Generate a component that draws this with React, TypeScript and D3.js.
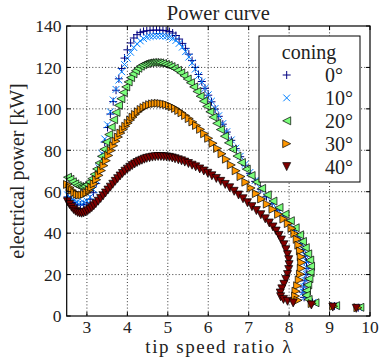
import React from 'react';
import * as d3 from 'd3';

const W = 379;
const H = 358;

const xTicks = [3, 4, 5, 6, 7, 8, 9, 10];
const yTicks = [0, 20, 40, 60, 80, 100, 120, 140];
const coningLabels = ['0°', '10°', '20°', '30°', '40°'];
const seriesColors = ['#000080', '#0080ff', '#7bff7b', '#ff9700', '#800000'];
const markerKinds = ['plus', 'x', 'left', 'right', 'down'];

// [tip speed ratio, electrical power kW]
const coning0: [number, number][] = [
  [2.52,57.5],[2.6,56],[2.68,54.8],[2.76,53.9],[2.84,53.5],[2.92,53.8],[3.0,54.6],[3.08,56.4],[3.16,59.5],[3.23,64],
  [3.3,70],[3.37,77],[3.44,84],[3.51,91],[3.58,97.5],[3.65,103.5],[3.72,109],[3.79,114.5],[3.86,119.5],[3.93,124.5],
  [4.0,128.5],[4.08,131.8],[4.16,134.2],[4.24,135.8],[4.32,136.8],[4.4,137.4],[4.48,137.7],[4.56,137.9],[4.64,138],[4.72,138],
  [4.8,138],[4.88,137.9],[4.96,137.7],[5.04,137.3],[5.12,136.6],[5.2,135.4],[5.28,133.7],[5.36,131.6],[5.44,129.2],[5.52,126.4],
  [5.6,123.3],[5.68,120],[5.76,116.6],[5.84,113.2],[5.92,109.9],[6.0,106.6],[6.08,103.4],[6.17,99.9],[6.26,96.4],[6.36,92.6],
  [6.46,88.8],[6.57,84.8],[6.68,80.8],[6.79,76.9],[6.91,72.8],[7.03,68.9],[7.16,65],[7.3,61.2],[7.44,57.6],[7.58,54.2],
  [7.72,51],[7.86,47.8],[8.0,44.7],[8.13,41.4],[8.22,38.2],[8.29,35],[8.35,32],[8.4,29],[8.43,26],[8.44,23],
  [8.42,20],[8.39,17],[8.36,14],[8.34,11.5],[8.37,9],[8.58,6.5],[9.12,4.8],[9.71,4.0],
];

const coning10: [number, number][] = [
  [2.52,58.5],[2.6,57.1],[2.68,55.9],[2.76,55],[2.84,54.6],[2.92,54.8],[3.0,55.6],[3.08,57.5],[3.16,61],[3.23,65.5],
  [3.3,71.5],[3.37,78.5],[3.44,85.5],[3.51,92.3],[3.58,98.6],[3.65,104.3],[3.72,109.4],[3.79,113.9],[3.86,117.9],[3.93,121.4],
  [4.0,124.4],[4.08,127.3],[4.16,129.6],[4.24,131.4],[4.32,132.8],[4.4,133.9],[4.48,134.6],[4.56,135],[4.64,135.2],[4.72,135.3],
  [4.8,135.3],[4.88,135.2],[4.96,135],[5.04,134.6],[5.12,134],[5.2,133],[5.28,131.6],[5.36,129.8],[5.44,127.6],[5.52,125],
  [5.6,122.2],[5.68,119.2],[5.76,116.1],[5.84,113],[5.92,109.9],[6.0,106.8],[6.08,103.7],[6.17,100.2],[6.26,96.7],[6.36,92.9],
  [6.46,89],[6.57,85],[6.68,81],[6.79,77.1],[6.91,73.2],[7.03,69.3],[7.16,65.4],[7.3,61.5],[7.44,57.9],[7.58,54.5],
  [7.72,51.3],[7.86,48.1],[8.0,45],[8.13,41.7],[8.23,38.4],[8.3,35.2],[8.36,32.1],[8.41,29.1],[8.44,26.1],[8.45,23.1],
  [8.43,20.1],[8.4,17.1],[8.37,14.1],[8.35,11.6],[8.38,9.1],[8.59,6.6],[9.13,4.9],[9.72,4.1],
];

const coning20: [number, number][] = [
  [2.52,67],[2.58,66],[2.64,64.8],[2.7,63.8],[2.76,63],[2.82,62.5],[2.88,62.4],[2.94,62.7],[3.0,63.5],[3.06,64.7],
  [3.12,66.3],[3.18,68.4],[3.24,71],[3.3,73.9],[3.36,77.1],[3.42,80.5],[3.48,84],[3.54,87.6],[3.6,91.2],[3.66,94.8],
  [3.72,98.3],[3.78,101.7],[3.84,104.9],[3.9,107.9],[3.96,110.6],[4.02,113],[4.08,115.1],[4.14,116.9],[4.2,118.4],[4.26,119.6],
  [4.32,120.6],[4.38,121.3],[4.44,121.8],[4.5,122.1],[4.56,122.3],[4.62,122.4],[4.68,122.4],[4.74,122.3],[4.8,122.2],[4.87,121.9],
  [4.94,121.5],[5.01,121],[5.08,120.4],[5.16,119.6],[5.24,118.6],[5.32,117.4],[5.4,116],[5.48,114.4],[5.56,112.6],[5.64,110.6],
  [5.72,108.4],[5.8,106.1],[5.88,103.7],[5.96,101.2],[6.04,98.6],[6.12,96],[6.21,93],[6.3,90],[6.4,86.8],[6.5,83.6],
  [6.6,80.4],[6.71,77.2],[6.82,74.1],[6.94,70.9],[7.06,67.8],[7.19,64.7],[7.32,61.6],[7.46,58.5],[7.6,55.5],[7.75,52.4],
  [7.9,49.2],[8.03,46],[8.15,42.6],[8.26,39.2],[8.33,36],[8.4,33],[8.46,30],[8.51,27],[8.53,24],[8.52,21],
  [8.49,18],[8.46,15],[8.43,12.3],[8.42,10],[8.47,8],[8.64,6.4],[9.15,5],[9.75,4.2],
];

const coning30: [number, number][] = [
  [2.52,63.5],[2.58,62],[2.64,60.7],[2.7,59.6],[2.76,58.8],[2.82,58.4],[2.88,58.4],[2.94,58.8],[3.0,59.6],[3.06,60.7],
  [3.12,62.1],[3.18,63.8],[3.24,65.8],[3.3,67.9],[3.36,70.2],[3.42,72.6],[3.48,75],[3.54,77.5],[3.6,79.9],[3.66,82.2],
  [3.72,84.4],[3.78,86.4],[3.84,88.3],[3.9,90],[3.96,91.6],[4.02,93.1],[4.08,94.6],[4.14,96],[4.2,97.3],[4.27,98.6],
  [4.34,99.7],[4.41,100.6],[4.48,101.4],[4.55,102],[4.62,102.4],[4.69,102.6],[4.76,102.7],[4.83,102.6],[4.9,102.4],[4.97,102.1],
  [5.04,101.6],[5.11,101],[5.19,100.2],[5.27,99.2],[5.35,98.1],[5.44,96.8],[5.53,95.3],[5.62,93.7],[5.71,92],[5.81,90.1],
  [5.91,88],[6.01,85.8],[6.12,83.4],[6.23,80.9],[6.34,78.3],[6.45,75.7],[6.57,72.9],[6.69,70.1],[6.81,67.3],[6.93,64.6],
  [7.06,61.8],[7.19,59.1],[7.32,56.5],[7.46,54],[7.6,51.5],[7.74,49.1],[7.87,46.8],[7.98,44.6],[8.07,42.3],[8.14,39.8],
  [8.2,37],[8.24,34.2],[8.28,31.4],[8.3,28.6],[8.31,25.8],[8.3,23],[8.28,20.2],[8.25,17.4],[8.21,14.6],[8.17,12],
  [8.16,9.6],[8.22,7.6],[8.57,6],[9.1,4.7],[9.7,4.0],
];

const coning40: [number, number][] = [
  [2.52,55.2],[2.57,53.8],[2.62,52.5],[2.67,51.4],[2.72,50.6],[2.77,50],[2.82,49.7],[2.87,49.6],[2.92,49.8],[2.97,50.2],
  [3.02,50.8],[3.07,51.5],[3.12,52.3],[3.17,53.2],[3.22,54.2],[3.28,55.4],[3.34,56.7],[3.4,58],[3.46,59.4],[3.52,60.8],
  [3.58,62.2],[3.64,63.6],[3.7,65],[3.76,66.3],[3.82,67.6],[3.88,68.8],[3.94,69.9],[4.0,70.9],[4.06,71.8],[4.12,72.6],
  [4.18,73.4],[4.24,74.1],[4.3,74.7],[4.36,75.2],[4.42,75.7],[4.48,76.1],[4.55,76.4],[4.62,76.7],[4.69,76.9],[4.76,77],
  [4.83,77],[4.9,76.9],[4.97,76.8],[5.04,76.6],[5.11,76.3],[5.18,75.9],[5.26,75.4],[5.34,74.9],[5.42,74.3],[5.51,73.6],
  [5.6,72.8],[5.69,72],[5.79,71],[5.89,70],[5.99,68.9],[6.09,67.7],[6.2,66.4],[6.31,65],[6.42,63.5],[6.53,61.9],
  [6.64,60.2],[6.75,58.4],[6.86,56.6],[6.97,54.7],[7.08,52.8],[7.19,50.9],[7.3,48.9],[7.41,46.9],[7.51,44.9],[7.6,43],
  [7.68,41],[7.75,38.9],[7.81,36.7],[7.87,34.4],[7.92,32],[7.96,29.6],[7.99,27.2],[8.0,24.8],[7.99,22.4],[7.96,20],
  [7.92,17.6],[7.87,15.3],[7.82,13.1],[7.78,11.1],[7.79,9.3],[7.86,8],[7.96,7.1],[8.1,6.3],[8.55,5.3],[9.08,4.3],[9.66,3.7],
];

const allSeries = [coning0, coning10, coning20, coning30, coning40];

const FONT = '"Liberation Serif", "DejaVu Serif", serif';

function markerPath(kind: string, cx: number, cy: number, s = 4): string {
  switch (kind) {
    case 'plus':
      return `M${cx - s},${cy}H${cx + s}M${cx},${cy - s}V${cy + s}`;
    case 'x': {
      const r = s * 0.85;
      return `M${cx - r},${cy - r}L${cx + r},${cy + r}M${cx - r},${cy + r}L${cx + r},${cy - r}`;
    }
    case 'left':
      return `M${cx - s},${cy}L${cx + s},${cy - s}L${cx + s},${cy + s}Z`;
    case 'right':
      return `M${cx + s},${cy}L${cx - s},${cy - s}L${cx - s},${cy + s}Z`;
    default:
      return `M${cx},${cy + s}L${cx - s},${cy - s}L${cx + s},${cy - s}Z`;
  }
}

function Marker({ kind, color, cx, cy }: { kind: string; color: string; cx: number; cy: number }) {
  const isLine = kind === 'plus' || kind === 'x';
  return (
    <path
      d={markerPath(kind, cx, cy)}
      fill={isLine ? 'none' : color}
      stroke={isLine ? color : '#000'}
      strokeWidth={isLine ? 1 : 0.7}
    />
  );
}

const txt = (size: number): React.CSSProperties => ({ fontFamily: FONT, fontSize: size, fill: '#222' });

export default function App() {
  const left = 66.7, right = 370, top = 26, bottom = 316;
  const x = d3.scaleLinear().domain([2.5, 10]).range([left, right]);
  const y = d3.scaleLinear().domain([0, 140]).range([bottom, top]);

  const legX = 259, legY = 36, legW = 101, legH = 146;
  const rowY = (i: number) => 75 + i * 22.9;

  return (
    <div style={{ position: 'absolute', left: 0, top: 0 }}>
      <svg width={W} height={H} style={{ display: 'block', background: '#fff' }}>
        <rect x={0} y={0} width={W} height={H} fill="#fff" />
        {allSeries.map((s, si) => (
          <g key={si}>
            {s.map((d, i) => (
              <Marker key={i} kind={markerKinds[si]} color={seriesColors[si]} cx={x(d[0])} cy={y(d[1])} />
            ))}
          </g>
        ))}
        <g stroke="#000" strokeWidth={0.8} strokeDasharray="1,2.2">
          {xTicks.slice(0, -1).map((t) => (
            <line key={'gx' + t} x1={x(t)} x2={x(t)} y1={top} y2={bottom} />
          ))}
          {yTicks.slice(1, -1).map((t) => (
            <line key={'gy' + t} x1={left} x2={right} y1={y(t)} y2={y(t)} />
          ))}
        </g>
        <g stroke="#000" strokeWidth={1}>
          {xTicks.map((t) => (
            <g key={'tx' + t}>
              <line x1={x(t)} x2={x(t)} y1={bottom} y2={bottom - 4} />
              <line x1={x(t)} x2={x(t)} y1={top} y2={top + 4} />
            </g>
          ))}
          {yTicks.map((t) => (
            <g key={'ty' + t}>
              <line x1={left} x2={left + 4} y1={y(t)} y2={y(t)} />
              <line x1={right} x2={right - 4} y1={y(t)} y2={y(t)} />
            </g>
          ))}
        </g>
        <rect x={left} y={top} width={right - left} height={bottom - top} fill="none" stroke="#000" strokeWidth={1.2} />
        {xTicks.map((t) => (
          <text key={'lx' + t} x={x(t)} y={332.5} textAnchor="middle" style={txt(17.5)}>{t}</text>
        ))}
        {yTicks.map((t) => (
          <text key={'ly' + t} x={61.5} y={y(t) + 6.3} textAnchor="end" style={txt(17.5)}>{t}</text>
        ))}
        <text x={(left + right) / 2} y={20} textAnchor="middle" style={txt(20.5)}>Power curve</text>
        <text x={(left + right) / 2} y={352.5} textAnchor="middle" style={txt(19)} textLength={146} lengthAdjust="spacing">tip speed ratio λ</text>
        <text transform={`translate(24,${(top + bottom) / 2}) rotate(-90)`} textAnchor="middle" style={txt(20)}>electrical power [kW]</text>
        <rect x={legX} y={legY} width={legW} height={legH} fill="#fff" stroke="#000" strokeWidth={1} />
        <text x={309} y={59} textAnchor="middle" style={txt(20)}>coning</text>
        {coningLabels.map((lab, i) => (
          <g key={lab}>
            <Marker kind={markerKinds[i]} color={seriesColors[i]} cx={286.7} cy={rowY(i)} />
            <text x={325} y={rowY(i) + 7} style={txt(20)}>{lab}</text>
          </g>
        ))}
      </svg>
    </div>
  );
}
